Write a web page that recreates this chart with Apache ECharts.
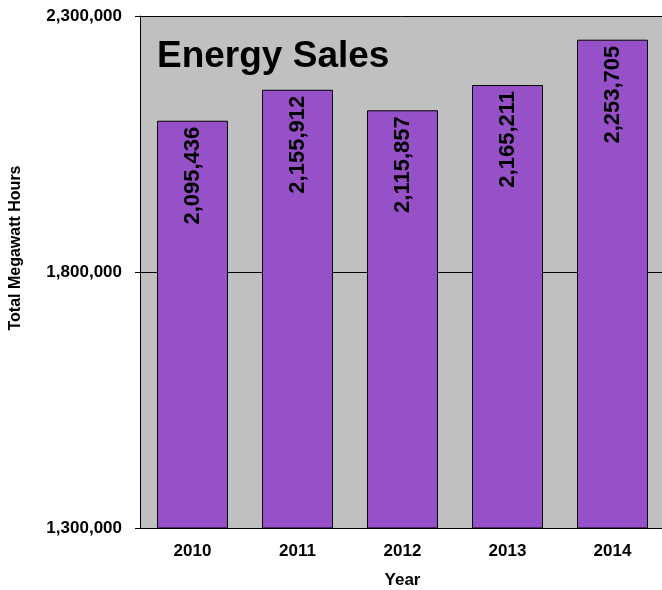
<!DOCTYPE html>
<html>
<head>
<meta charset="utf-8">
<style>
  html, body { margin: 0; padding: 0; background: #ffffff; overflow: hidden; }
  #chart { width: 662px; height: 590px; }
</style>
<script src="https://cdn.jsdelivr.net/npm/echarts@6/dist/echarts.min.js"></script>
</head>
<body>
<div id="chart"></div>
<script>
// Annual energy sales, in megawatt hours
const years = ['2010', '2011', '2012', '2013', '2014'];
const sales = [2095436, 2155912, 2115857, 2165211, 2253705];
const yMin = 1300000;
const yMax = 2300000;
const yStep = 500000;

const FONT = '"Liberation Sans", Arial, sans-serif';
const fmt = v => Number(v).toLocaleString('en-US');

const chart = echarts.init(document.getElementById('chart'), null, { renderer: 'canvas' });
chart.setOption({
  animation: false,
  backgroundColor: '#ffffff',
  title: {
    text: 'Energy Sales',
    left: 157,
    top: 38,
    padding: 0,
    textStyle: { fontFamily: FONT, fontWeight: 'bold', fontSize: 37, color: '#000' }
  },
  grid: {
    left: 140, top: 16, right: -3, bottom: 62,
    outerBoundsMode: 'none',
    containLabel: false,
    show: true,
    backgroundColor: '#c0c0c0',
    borderWidth: 0
  },
  xAxis: {
    type: 'category',
    data: years,
    name: 'Year',
    nameLocation: 'middle',
    nameGap: 44,
    nameTextStyle: { fontFamily: FONT, fontWeight: 'bold', fontSize: 17, color: '#000', verticalAlign: 'top' },
    axisLine: { lineStyle: { color: '#000', width: 1 } },
    axisTick: { show: false },
    axisLabel: { margin: 15, fontFamily: FONT, fontWeight: 'bold', fontSize: 17, color: '#000' }
  },
  yAxis: {
    type: 'value',
    min: yMin,
    max: yMax,
    interval: yStep,
    name: 'Total Megawatt Hours',
    nameLocation: 'middle',
    nameRotate: 90,
    nameGap: 116,
    nameTextStyle: { fontFamily: FONT, fontWeight: 'bold', fontSize: 16, color: '#000', padding: [0, 0, 0, 48] },
    axisLine: { show: true, lineStyle: { color: '#000', width: 1 } },
    axisTick: { show: true, length: 5, lineStyle: { color: '#000' } },
    splitLine: { show: true, lineStyle: { color: '#000', width: 1 } },
    axisLabel: { margin: 18, fontFamily: FONT, fontWeight: 'bold', fontSize: 17, color: '#000', formatter: fmt }
  },
  series: [{
    type: 'bar',
    data: sales,
    barWidth: 71,
    itemStyle: { color: '#9650c8', borderColor: '#000', borderWidth: 1 },
    label: {
      show: true,
      position: 'insideTop',
      distance: 8,
      rotate: 90,
      align: 'right',
      verticalAlign: 'middle',
      offset: [2, 0],
      fontFamily: FONT,
      fontWeight: 'bold',
      fontSize: 22,
      color: '#000',
      formatter: p => fmt(p.value)
    }
  }]
});
</script>
</body>
</html>
